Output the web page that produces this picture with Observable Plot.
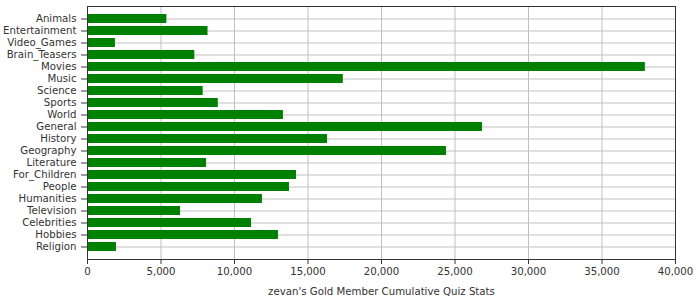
<!DOCTYPE html>
<html>
<head>
<meta charset="utf-8">
<script src="https://cdn.jsdelivr.net/npm/d3@7"></script>
<script src="https://cdn.jsdelivr.net/npm/@observablehq/plot@0.6"></script>
<style>
  html, body { margin: 0; padding: 0; background: #fff; }
  #chart svg { display: block; }
  #chart svg text { font-family: "DejaVu Sans", sans-serif; }
</style>
</head>
<body>
<div id="chart"></div>
<script>
const categories = ["Animals","Entertainment","Video_Games","Brain_Teasers","Movies","Music","Science","Sports","World","General","History","Geography","Literature","For_Children","People","Humanities","Television","Celebrities","Hobbies","Religion"];
const values = [5400, 8200, 1900, 7300, 37950, 17400, 7870, 8900, 13330, 26870, 16330, 24420, 8100, 14220, 13740, 11900, 6330, 11160, 12990, 1970];
const xTicks = [0, 5000, 10000, 15000, 20000, 25000, 30000, 35000, 40000];
const xLabel = "zevan's Gold Member Cumulative Quiz Stats";

const data = categories.map((c, i) => ({category: c, value: values[i]}));
const font = "DejaVu Sans";

const chart = Plot.plot({
  width: 700,
  height: 300,
  marginLeft: 87,
  marginRight: 25,
  marginTop: 6,
  marginBottom: 41,
  style: {fontFamily: font, fontSize: "10.2px", color: "#333", background: "#fff"},
  x: {domain: [0, 40000]},
  y: {domain: categories, paddingInner: 0.29, paddingOuter: 0.145},
  marks: [
    Plot.gridX(xTicks, {stroke: "#c0c0c0", strokeOpacity: 1, strokeWidth: 1}),
    Plot.gridY({stroke: "#c0c0c0", strokeOpacity: 1, strokeWidth: 1}),
    Plot.barX(data, {x: "value", y: "category", fill: "#008000"}),
    Plot.frame({stroke: "#333", strokeWidth: 1}),
    Plot.axisX(xTicks, {tickFormat: d3.format(","), tickSize: 5, tickPadding: 3, stroke: "#333", fill: "#333", fontFamily: font, fontSize: 10.2, label: xLabel, labelAnchor: "center", labelArrow: "none", labelOffset: 35}),
    Plot.axisY({tickSize: 6, tickPadding: 5, stroke: "#333", fill: "#333", fontFamily: font, fontSize: 10.2, label: null})
  ]
});
document.getElementById("chart").appendChild(chart);
</script>
</body>
</html>
